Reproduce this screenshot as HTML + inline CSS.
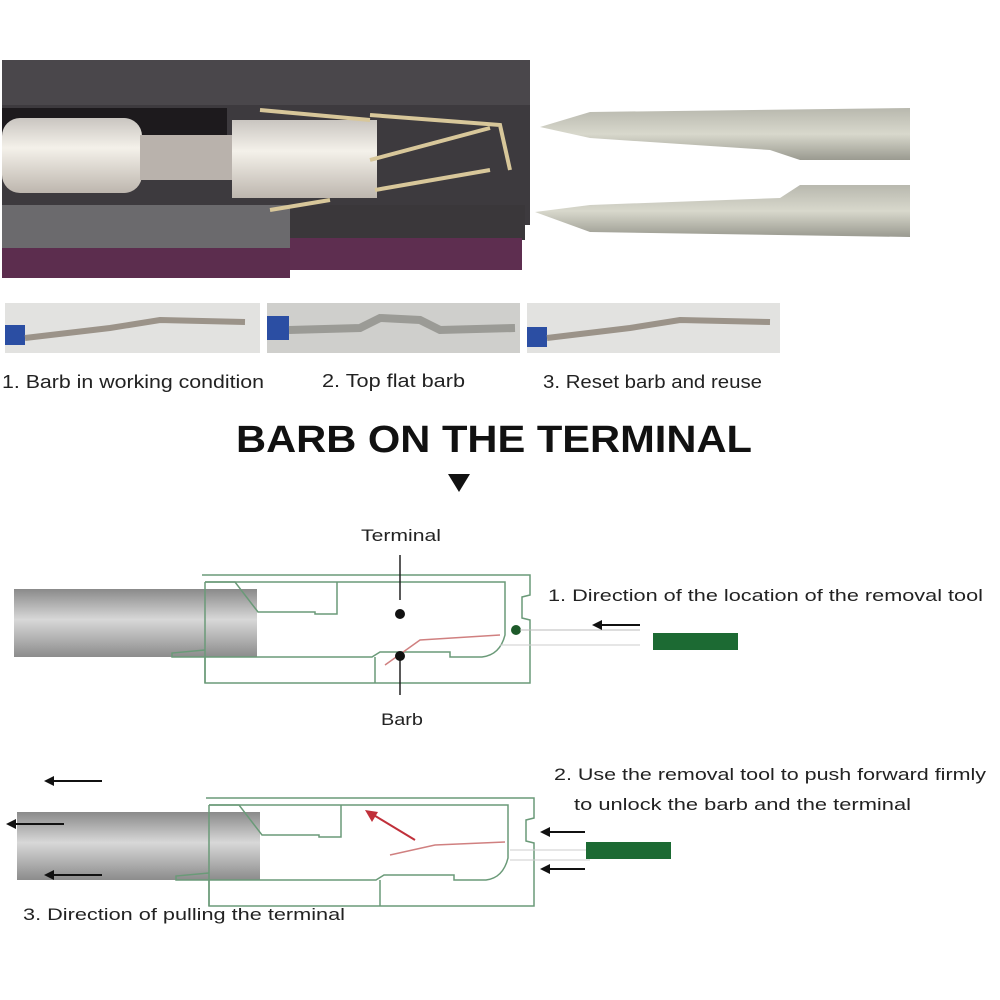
<!DOCTYPE html>
<html><head><meta charset="utf-8"><style>
html,body{margin:0;padding:0;background:#fff;}
svg{display:block}
text{font-family:"Liberation Sans","DejaVu Sans",sans-serif;}
</style></head><body>
<svg width="1000" height="1000" viewBox="0 0 1000 1000" xmlns="http://www.w3.org/2000/svg">
<defs>
<linearGradient id="cyl" x1="0" y1="0" x2="0" y2="1">
<stop offset="0" stop-color="#8a8a8a"/><stop offset="0.45" stop-color="#d8d8d8"/><stop offset="1" stop-color="#8c8c8c"/></linearGradient>
<linearGradient id="term" x1="0" y1="0" x2="0" y2="1">
<stop offset="0" stop-color="#c9c5c0"/><stop offset="0.4" stop-color="#f4f1ea"/><stop offset="1" stop-color="#bdb6ae"/></linearGradient>
<linearGradient id="tw" x1="0" y1="0" x2="0" y2="1">
<stop offset="0" stop-color="#b8b8ae"/><stop offset="0.5" stop-color="#d8d8cc"/><stop offset="1" stop-color="#9a9a90"/></linearGradient>
</defs>
<!-- top photo -->
<rect x="2" y="60" width="528" height="165" fill="#3d3a3e"/>
<rect x="2" y="60" width="528" height="45" fill="#4a474b"/>
<rect x="2" y="205" width="288" height="45" fill="#6b6a6d"/>
<rect x="290" y="205" width="235" height="35" fill="#3a373a"/>
<rect x="2" y="248" width="288" height="30" fill="#5c2d4e"/>
<rect x="290" y="238" width="232" height="32" fill="#5e2e50"/>
<rect x="2" y="108" width="225" height="60" fill="#1d1a1d"/>
<rect x="2" y="118" width="140" height="75" rx="18" fill="url(#term)"/>
<rect x="140" y="135" width="100" height="45" fill="#b9b2ac"/>
<rect x="232" y="120" width="145" height="78" fill="url(#term)"/>
<path d="M260 110 L370 120 M370 115 L500 125 L510 170 M370 160 L490 128 M375 190 L490 170 M270 210 L330 200" stroke="#d8c79a" stroke-width="4" fill="none"/>
<!-- tweezers -->
<path d="M540 127 L590 112 L910 108 L910 160 L800 160 L770 150 L590 138 Z" fill="url(#tw)"/>
<path d="M535 212 L590 205 L780 198 L800 185 L910 185 L910 237 L590 232 Z" fill="url(#tw)"/>
<!-- small photos -->
<rect x="5" y="303" width="255" height="50" fill="#e2e2e0"/>
<rect x="267" y="303" width="253" height="50" fill="#cfcfcc"/>
<rect x="527" y="303" width="253" height="50" fill="#e2e2e0"/>
<rect x="5" y="325" width="20" height="20" fill="#2b4ea3"/>
<rect x="267" y="316" width="22" height="24" fill="#2b4ea3"/>
<rect x="527" y="327" width="20" height="20" fill="#2b4ea3"/>
<path d="M25 338 L110 328 L160 320 L245 322" stroke="#9b9389" stroke-width="6" fill="none"/>
<path d="M289 330 L360 328 L380 318 L420 320 L440 330 L515 328" stroke="#9b9b96" stroke-width="8" fill="none"/>
<path d="M547 338 L630 328 L680 320 L770 322" stroke="#9b9389" stroke-width="6" fill="none"/>
<text x="2" y="388" font-size="18" fill="#222" textLength="262" lengthAdjust="spacingAndGlyphs">1. Barb in working condition</text>
<text x="322" y="387" font-size="18" fill="#222" textLength="143" lengthAdjust="spacingAndGlyphs">2. Top flat barb</text>
<text x="543" y="388" font-size="18" fill="#222" textLength="219" lengthAdjust="spacingAndGlyphs">3. Reset barb and reuse</text>
<text x="236" y="452" font-size="38" font-weight="bold" fill="#111" textLength="516" lengthAdjust="spacingAndGlyphs">BARB ON THE TERMINAL</text>
<path d="M448 474 L470 474 L459 492 Z" fill="#111"/>
<!-- diagram 1 -->
<text x="361" y="541" font-size="17" fill="#222" textLength="80" lengthAdjust="spacingAndGlyphs">Terminal</text>
<text x="381" y="725" font-size="17" fill="#222" textLength="42" lengthAdjust="spacingAndGlyphs">Barb</text>
<rect x="14" y="589" width="243" height="68" fill="url(#cyl)"/>
<g fill="none" stroke="#6a9a78" stroke-width="1.5">
<path d="M202 575 L530 575 L530 595 L522 597 L522 618 L530 620 L530 683 L205 683 L205 657"/>
<path d="M205 582 L505 582 L505 635 Q500 655 482 657 L450 657 L450 652 L380 652 L372 657 L172 657 L172 653 L205 650"/>
<path d="M205 582 L235 582 L258 612 L315 612 L315 614 L337 614 L337 582"/>
<path d="M205 657 L205 683 M375 657 L375 683 M205 582 L205 657"/>
</g>
<path d="M385 665 L420 640 L500 635" stroke="#d08080" stroke-width="1.5" fill="none"/>
<line x1="400" y1="555" x2="400" y2="600" stroke="#222" stroke-width="1.5"/>
<line x1="400" y1="660" x2="400" y2="695" stroke="#222" stroke-width="1.5"/>
<circle cx="400" cy="614" r="5" fill="#111"/>
<circle cx="400" cy="656" r="5" fill="#111"/>
<circle cx="516" cy="630" r="5" fill="#1d5a2a"/>
<line x1="520" y1="630" x2="640" y2="630" stroke="#bbb"/>
<line x1="500" y1="645" x2="640" y2="645" stroke="#ccc"/>
<text x="548" y="601" font-size="17" fill="#222" textLength="435" lengthAdjust="spacingAndGlyphs">1. Direction of the location of the removal tool</text>
<line x1="600" y1="625" x2="640" y2="625" stroke="#111" stroke-width="2"/>
<path d="M592 625 L602 620 L602 630 Z" fill="#111"/>
<rect x="653" y="633" width="85" height="17" fill="#1c6a33"/>
<!-- diagram 2 -->
<rect x="17" y="812" width="243" height="68" fill="url(#cyl)"/>
<g fill="none" stroke="#6a9a78" stroke-width="1.5">
<path d="M206 798 L534 798 L534 818 L526 820 L526 841 L534 843 L534 906 L209 906 L209 880"/>
<path d="M209 805 L508 805 L508 858 Q503 878 486 880 L454 880 L454 875 L384 875 L376 880 L176 880 L176 876 L209 873"/>
<path d="M209 805 L239 805 L262 835 L319 835 L319 837 L341 837 L341 805"/>
<path d="M209 880 L209 906 M380 880 L380 906 M209 805 L209 880"/>
</g>
<path d="M390 855 L435 845 L505 842" stroke="#d08080" stroke-width="1.5" fill="none"/>
<line x1="415" y1="840" x2="372" y2="814" stroke="#c0303a" stroke-width="2"/>
<path d="M365 810 L378 812 L372 822 Z" fill="#c0303a"/>
<line x1="510" y1="850" x2="590" y2="850" stroke="#ccc"/>
<line x1="510" y1="860" x2="590" y2="860" stroke="#ccc"/>
<text x="554" y="780" font-size="17" fill="#222" textLength="432" lengthAdjust="spacingAndGlyphs">2. Use the removal tool to push forward firmly</text>
<text x="574" y="810" font-size="17" fill="#222" textLength="337" lengthAdjust="spacingAndGlyphs">to unlock the barb and the terminal</text>
<text x="23" y="920" font-size="17" fill="#222" textLength="322" lengthAdjust="spacingAndGlyphs">3. Direction of pulling the terminal</text>
<rect x="586" y="842" width="85" height="17" fill="#1c6a33"/>
<g stroke="#111" stroke-width="2">
<line x1="52" y1="781" x2="102" y2="781"/>
<line x1="14" y1="824" x2="64" y2="824"/>
<line x1="52" y1="875" x2="102" y2="875"/>
<line x1="548" y1="832" x2="585" y2="832"/>
<line x1="548" y1="869" x2="585" y2="869"/>
</g>
<g fill="#111">
<path d="M44 781 L54 776 L54 786 Z"/>
<path d="M6 824 L16 819 L16 829 Z"/>
<path d="M44 875 L54 870 L54 880 Z"/>
<path d="M540 832 L550 827 L550 837 Z"/>
<path d="M540 869 L550 864 L550 874 Z"/>
</g>
</svg>
</body></html>
